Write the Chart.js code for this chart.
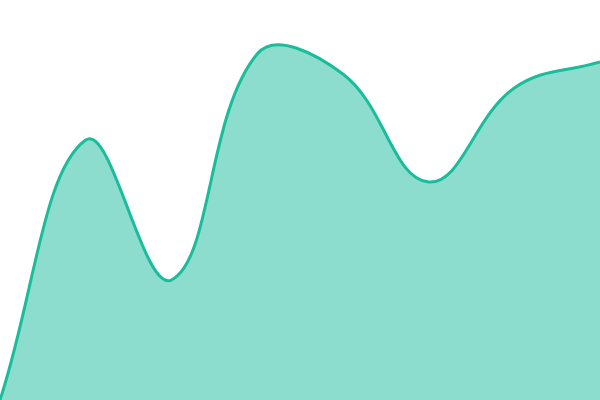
<!DOCTYPE html>
<html><head><meta charset="utf-8">
<script src="https://cdn.jsdelivr.net/npm/chart.js@4"></script>
<style>html,body{margin:0;padding:0;background:#fff}#wrap{width:600px;height:400px}</style>
</head><body><div id="wrap"><canvas id="c"></canvas></div>
<script>
const labels = ["1","2","3","4","5","6","7","8"];
const values = [0, 65, 30, 86.5, 81.5, 54.5, 78, 84.5];
new Chart(document.getElementById('c'), {
  type: 'line',
  data: { labels: labels, datasets: [{ data: values, fill: true, borderColor: '#1abc9c', backgroundColor: 'rgba(26,188,156,0.5)', borderWidth: 3, tension: 0.4, pointRadius: 0 }] },
  options: { responsive: true, maintainAspectRatio: false, animation: false, layout: { padding: 0 },
    plugins: { legend: { display: false }, tooltip: { enabled: false } },
    scales: { x: { display: false }, y: { display: false, min: 0, max: 100 } } }
});
</script></body></html>
